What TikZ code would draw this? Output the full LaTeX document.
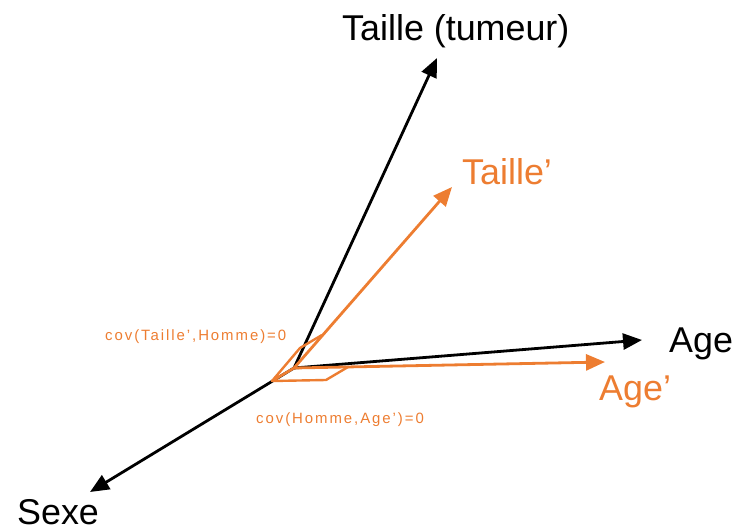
\documentclass[tikz,border=0pt]{standalone}
\usepackage{fontspec}
\setmainfont{Liberation Sans}
\newfontfamily\covfont[LetterSpace=13]{Liberation Sans}
\usepackage{xcolor}
\usepackage{tikz}
\usetikzlibrary{arrows.meta, calc}
\definecolor{residorange}{HTML}{ED7D31}

\begin{document}
\begin{tikzpicture}[x=1bp, y=-1bp, inner sep=0pt,
  axis/.style={-{Triangle[length=19bp, width=16bp]}, line width=2.8bp},
  bigtext/.style={font=\fontsize{36}{40}\selectfont, anchor=base west},
  covtext/.style={font=\covfont\fontsize{15}{17}\selectfont, anchor=base west, text=residorange}]
  \useasboundingbox (0,0) rectangle (738,532);
  % origin and arrow ends
  \coordinate (O) at (294,368);
  \coordinate (tailletip) at (437,58);
  \coordinate (agetip) at (642,340);
  \coordinate (sexetip) at (90,492);
  \coordinate (tailleptip) at (452,187);
  \coordinate (ageptip) at (605,362);
  % right angle corners
  \coordinate (sexecorner) at (272,381);
  \coordinate (taillecorner) at (322,335);
  \coordinate (agecorner) at (348,367);

  \node[bigtext] (taille) at (342,41) {Taille (tumeur)};
  \node[bigtext] (age) at (669,352) {Age};
  \node[bigtext] (sexe) at (17,524) {Sexe};
  \node[bigtext, text=residorange] (taillep) at (462,185) {Taille’};
  \node[bigtext, text=residorange] (agep) at (599,400) {Age’};
  \node[covtext] (covtaille) at (105,340) {cov(Taille’,Homme)=0};
  \node[covtext] (covage) at (256,423) {cov(Homme,Age’)=0};

  \draw[axis] (O) -- (tailletip);
  \draw[axis] (O) -- (agetip);
  \draw[axis] (O) -- (sexetip);
  \draw[axis, residorange] (O) -- (tailleptip);
  \draw[axis, residorange] (O) -- (ageptip);

  \draw[residorange, line width=2.4bp, line join=round]
    (O) -- (sexecorner) -- ($(sexecorner)+(taillecorner)-(O)$) -- (taillecorner);
  \draw[residorange, line width=2.4bp, line join=round]
    (O) -- (sexecorner) -- ($(sexecorner)+(agecorner)-(O)$) -- (agecorner);
\end{tikzpicture}
\end{document}
